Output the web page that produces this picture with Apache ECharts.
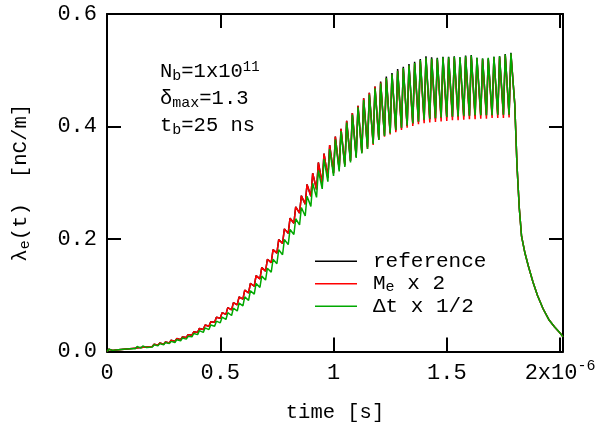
<!DOCTYPE html>
<html>
<head>
<meta charset="utf-8">
<title>electron line density</title>
<script src="https://cdn.jsdelivr.net/npm/echarts@6.0.0/dist/echarts.min.js"></script>
<style>
  html, body { margin: 0; padding: 0; background: #fff; }
  #chart { width: 615px; height: 438px; }
</style>
</head>
<body>
<div id="chart"></div>
<script>
// one trough (just before each bunch) and one peak (just after it) per bunch, 72 bunches, 25 ns apart
const bunchSpacingNs = 25;
const riseNs = 8;

// reference
const refLow = [
  0.000, 0.002, 0.003, 0.004, 0.005, 0.006, 0.007, 0.008, 0.009, 0.011,
  0.013, 0.015, 0.018, 0.021, 0.025, 0.029, 0.034, 0.039, 0.045, 0.052,
  0.059, 0.066, 0.074, 0.083, 0.093, 0.104, 0.116, 0.129, 0.143, 0.158,
  0.175, 0.192, 0.210, 0.228, 0.246, 0.262, 0.276, 0.288, 0.299, 0.309,
  0.317, 0.324, 0.331, 0.339, 0.347, 0.355, 0.363, 0.371, 0.378, 0.384,
  0.389, 0.393, 0.397, 0.401, 0.405, 0.408, 0.411, 0.413, 0.414, 0.415,
  0.416, 0.417, 0.418, 0.418, 0.419, 0.419, 0.420, 0.420, 0.420, 0.421,
  0.421, 0.421
];
const refHigh = [
  0.004, 0.005, 0.006, 0.007, 0.008, 0.009, 0.010, 0.011, 0.013, 0.015,
  0.017, 0.020, 0.023, 0.026, 0.030, 0.035, 0.041, 0.047, 0.053, 0.061,
  0.069, 0.078, 0.087, 0.097, 0.109, 0.121, 0.135, 0.149, 0.164, 0.181,
  0.199, 0.218, 0.237, 0.257, 0.277, 0.297, 0.317, 0.336, 0.352, 0.367,
  0.382, 0.396, 0.410, 0.424, 0.437, 0.450, 0.460, 0.471, 0.480, 0.489,
  0.495, 0.502, 0.506, 0.511, 0.515, 0.520, 0.525, 0.523, 0.522, 0.524,
  0.524, 0.525, 0.523, 0.526, 0.527, 0.522, 0.521, 0.521, 0.524, 0.525,
  0.529, 0.531
];

// M_e x 2
const meLow = [
  0.000, 0.002, 0.003, 0.004, 0.005, 0.006, 0.007, 0.008, 0.009, 0.011,
  0.013, 0.015, 0.018, 0.021, 0.025, 0.029, 0.034, 0.039, 0.045, 0.052,
  0.059, 0.066, 0.074, 0.083, 0.093, 0.104, 0.116, 0.129, 0.143, 0.158,
  0.175, 0.192, 0.210, 0.228, 0.246, 0.262, 0.276, 0.288, 0.299, 0.309,
  0.317, 0.324, 0.331, 0.339, 0.346, 0.353, 0.360, 0.367, 0.376, 0.382,
  0.386, 0.390, 0.394, 0.398, 0.401, 0.404, 0.406, 0.407, 0.408, 0.409,
  0.410, 0.411, 0.411, 0.412, 0.413, 0.413, 0.414, 0.414, 0.415, 0.415,
  0.415, 0.416
];
const meHigh = [
  0.004, 0.005, 0.006, 0.007, 0.008, 0.009, 0.010, 0.011, 0.013, 0.015,
  0.017, 0.020, 0.023, 0.026, 0.030, 0.035, 0.041, 0.047, 0.053, 0.061,
  0.069, 0.078, 0.087, 0.097, 0.109, 0.121, 0.135, 0.149, 0.164, 0.181,
  0.199, 0.218, 0.237, 0.257, 0.277, 0.297, 0.317, 0.336, 0.352, 0.367,
  0.382, 0.396, 0.410, 0.424, 0.437, 0.450, 0.460, 0.471, 0.478, 0.486,
  0.492, 0.499, 0.503, 0.508, 0.512, 0.517, 0.521, 0.520, 0.519, 0.521,
  0.521, 0.522, 0.520, 0.523, 0.524, 0.520, 0.519, 0.519, 0.522, 0.523,
  0.527, 0.529
];

// Δt x 1/2
const dtLow = [
  0.000, 0.002, 0.003, 0.004, 0.005, 0.005, 0.006, 0.007, 0.008, 0.010,
  0.012, 0.014, 0.016, 0.019, 0.022, 0.026, 0.030, 0.034, 0.039, 0.045,
  0.051, 0.057, 0.064, 0.072, 0.081, 0.091, 0.102, 0.114, 0.127, 0.141,
  0.156, 0.172, 0.190, 0.208, 0.225, 0.241, 0.258, 0.274, 0.289, 0.302,
  0.312, 0.320, 0.328, 0.336, 0.344, 0.352, 0.360, 0.369, 0.376, 0.383,
  0.388, 0.394, 0.398, 0.402, 0.406, 0.409, 0.412, 0.414, 0.415, 0.416,
  0.417, 0.418, 0.418, 0.419, 0.419, 0.420, 0.420, 0.420, 0.420, 0.421,
  0.421, 0.421
];
const dtHigh = [
  0.004, 0.005, 0.006, 0.007, 0.008, 0.009, 0.010, 0.010, 0.012, 0.014,
  0.016, 0.018, 0.021, 0.024, 0.027, 0.032, 0.037, 0.042, 0.047, 0.054,
  0.061, 0.069, 0.077, 0.086, 0.097, 0.108, 0.121, 0.134, 0.148, 0.164,
  0.181, 0.199, 0.217, 0.236, 0.256, 0.276, 0.299, 0.322, 0.342, 0.360,
  0.377, 0.392, 0.407, 0.421, 0.434, 0.447, 0.457, 0.468, 0.477, 0.486,
  0.493, 0.499, 0.504, 0.509, 0.513, 0.518, 0.522, 0.521, 0.521, 0.523,
  0.523, 0.524, 0.523, 0.525, 0.526, 0.522, 0.521, 0.522, 0.524, 0.525,
  0.528, 0.530
];

// after the train the three curves lie on top of each other
const decayTimeNs = [1800, 1810, 1820, 1830, 1845, 1860, 1880, 1900, 1925, 1950, 1975, 2000, 2013];
const decayValues = [0.440, 0.330, 0.255, 0.205, 0.175, 0.152, 0.124, 0.100, 0.076, 0.057, 0.044, 0.033, 0.026];

const seriesNames = ['reference', 'Me x 2', 'Δt x 1/2'];
const seriesColors = ['#000000', '#ff0000', '#00a800'];
const legendLabels = ['reference', 'M{sub|e} x 2', 'Δt x 1/2'];

const xTickLabels = ['0', '0.5', '1', '1.5', '2x10{sup|-6}'];
const yTickLabels = ['0.0', '0.2', '0.4', '0.6'];

const noteLines = ['N{sub|b}=1x10{sup|11}', 'δ{sub|max}=1.3', 't{sub|b}=25 ns'];

const FONT = '"Liberation Mono", "DejaVu Sans Mono", monospace';

// time axis in microseconds
function buildCurve(lows, highs, tail) {
  const pts = [];
  lows.forEach((lo, k) => {
    const t0 = k * bunchSpacingNs;
    pts.push([t0 / 1000, lo]);
    pts.push([(t0 + riseNs) / 1000, highs[k]]);
  });
  decayTimeNs.forEach((t, i) => pts.push([t / 1000, tail[i]]));
  return pts;
}

const curves = [
  buildCurve(refLow, refHigh, decayValues),
  buildCurve(meLow, meHigh, decayValues),
  buildCurve(dtLow, dtHigh, decayValues)
];

const subStyle = { fontFamily: FONT, fontSize: 15, lineHeight: 14, verticalAlign: 'bottom', color: '#000' };
const supStyle = { fontFamily: FONT, fontSize: 15, lineHeight: 14, verticalAlign: 'top', color: '#000' };

const lineAxis = {
  axisLine: { onZero: false, lineStyle: { color: '#000', width: 2 } },
  axisTick: { inside: true, length: 14, lineStyle: { color: '#000', width: 2 } },
  splitLine: { show: false }
};

const chart = echarts.init(document.getElementById('chart'));

chart.setOption({
  animation: false,
  backgroundColor: '#fff',
  grid: { left: 107, right: 52, top: 14, bottom: 86.5 },
  xAxis: [
    {
      ...lineAxis,
      type: 'value', position: 'bottom',
      min: 0, max: 2.013, interval: 0.5,
      name: 'time [s]', nameLocation: 'middle', nameGap: 51,
      nameTextStyle: { fontFamily: FONT, fontSize: 20.5, color: '#000' },
      axisLabel: {
        fontFamily: FONT, fontSize: 22, color: '#000', margin: 7.5, lineHeight: 28,
        rich: { sup: supStyle },
        formatter: v => {
          const i = Math.round(v / 0.5);
          return Math.abs(v - i * 0.5) < 1e-6 ? (xTickLabels[i] || '') : '';
        }
      }
    },
    {
      ...lineAxis,
      type: 'value', position: 'top',
      min: 0, max: 2.013, interval: 0.5,
      axisLabel: { show: false }
    }
  ],
  yAxis: [
    {
      ...lineAxis,
      type: 'value', position: 'left',
      min: 0, max: 0.6, interval: 0.2,
      name: 'λ{sub|e}(t)  [nC/m]', nameLocation: 'middle', nameGap: 74, nameRotate: 90,
      nameTextStyle: { fontFamily: FONT, fontSize: 20.7, color: '#000', lineHeight: 24, rich: { sub: subStyle } },
      axisLabel: {
        fontFamily: FONT, fontSize: 22, color: '#000', margin: 10,
        formatter: v => yTickLabels[Math.round(v / 0.2)] || ''
      }
    },
    {
      ...lineAxis,
      type: 'value', position: 'right',
      min: 0, max: 0.6, interval: 0.2,
      axisLabel: { show: false }
    }
  ],
  legend: {
    data: seriesNames,
    orient: 'vertical',
    left: 315, top: 250,
    padding: 0,
    icon: 'rect',
    itemWidth: 42, itemHeight: 1.5, itemGap: 0,
    formatter: name => legendLabels[seriesNames.indexOf(name)],
    textStyle: {
      fontFamily: FONT, fontSize: 21, color: '#000', lineHeight: 22.5,
      padding: [0, 0, 0, 11],
      rich: { sub: subStyle }
    }
  },
  graphic: noteLines.map((txt, i) => ({
    type: 'text',
    x: 160, y: 72 + i * 26.8,
    style: {
      text: txt, fontFamily: FONT, fontSize: 20.5, fill: '#000',
      lineHeight: 24, verticalAlign: 'middle',
      rich: { sub: subStyle, sup: { ...supStyle, fontSize: 14 } }
    }
  })),
  series: curves.map((data, i) => ({
    name: seriesNames[i],
    type: 'line',
    data: data,
    symbol: 'none',
    lineStyle: { color: seriesColors[i], width: 1.5 },
    itemStyle: { color: seriesColors[i] }
  }))
});
</script>
</body>
</html>
